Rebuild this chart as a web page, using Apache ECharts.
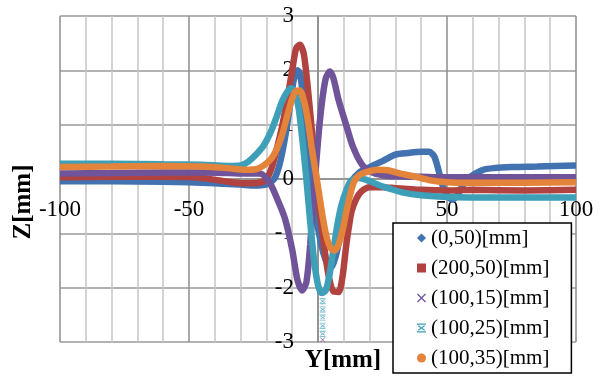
<!DOCTYPE html>
<html>
<head>
<meta charset="utf-8">
<script src="https://cdn.jsdelivr.net/npm/echarts/dist/echarts.min.js"></script>
<style>
  html, body { margin: 0; padding: 0; background: #fff; }
  #chart { width: 602px; height: 380px; }
</style>
</head>
<body>
<div id="chart"></div>
<script>
// series names (legend)
var names = ['(0,50)[mm]', '(200,50)[mm]', '(100,15)[mm]', '(100,25)[mm]', '(100,35)[mm]'];
var colors = ['#4272b0', '#b0433f', '#6f5499', '#3d9fb8', '#e3843a'];

// [Y, Z]
var s0_50 = [[-100,-0.04],[-80,-0.04],[-60,-0.05],[-50,-0.06],[-40,-0.08],[-30,-0.1],[-25,-0.12],[-20,-0.1],[-17,0.0],
  [-15,0.25],[-13,0.7],[-11,1.3],[-9.5,1.8],[-8,2.0],[-7,1.95],[-6,1.6],[-4,0.8],[-2,-0.2],[0,-0.9],[2,-1.35],
  [4,-1.6],[5,-1.63],[6,-1.55],[7.5,-1.3],[9,-0.85],[11,-0.35],[13,-0.05],[16,0.12],[20,0.22],[25,0.33],[30,0.45],
  [35,0.48],[40,0.5],[43,0.5],[45,0.42],[46.5,0.2],[48,-0.08],[50,-0.3],[52,-0.38],[54,-0.3],[56,-0.12],[58,0.0],
  [61,0.1],[64,0.17],[68,0.2],[75,0.22],[85,0.23],[100,0.25]];

var s200_50 = [[-100,0.03],[-80,0.04],[-60,0.04],[-45,0.02],[-35,-0.05],[-28,-0.08],[-23,-0.07],[-20,0.0],[-18,0.2],
  [-16,0.55],[-14,0.95],[-12,1.45],[-10,2.0],[-8.5,2.4],[-7,2.47],[-5.5,2.3],[-4,1.7],[-2,0.7],[0,-0.3],[2,-1.1],
  [4,-1.75],[6,-2.07],[8,-2.08],[9.5,-1.8],[11,-1.2],[13,-0.6],[15,-0.35],[17,-0.22],[20,-0.15],[25,-0.15],
  [30,-0.17],[40,-0.2],[50,-0.21],[60,-0.2],[80,-0.21],[100,-0.2]];

var s100_15 = [[-100,0.1],[-80,0.11],[-60,0.12],[-45,0.12],[-35,0.11],[-28,0.1],[-22.5,0.1],[-18.6,-0.08],[-15.5,-0.4],
  [-12.8,-0.73],[-10,-1.3],[-8,-1.85],[-6.2,-2.05],[-4.5,-1.9],[-3,-1.2],[-1.5,-0.2],[0,0.7],[1.5,1.4],[3,1.85],
  [4.6,1.98],[6,1.85],[8,1.45],[11,0.98],[13.5,0.6],[17,0.27],[21,0.12],[25,0.07],[30,0.05],[40,0.04],[50,0.03],
  [70,0.03],[100,0.03]];

var s100_25 = [[-100,0.28],[-80,0.28],[-60,0.27],[-45,0.26],[-35,0.24],[-30,0.25],[-27,0.32],[-24,0.45],[-21,0.62],
  [-18,0.9],[-16,1.15],[-14,1.42],[-12,1.6],[-10.5,1.67],[-9,1.6],[-7.5,1.3],[-6,0.7],[-4.5,0.0],[-3,-0.8],
  [-1.5,-1.5],[0,-1.95],[1.5,-2.1],[3,-2.05],[4.5,-1.75],[6,-1.3],[7.5,-0.85],[9,-0.5],[11,-0.2],[13,-0.02],
  [16,0.02],[19,-0.02],[23,-0.1],[28,-0.18],[33,-0.25],[40,-0.3],[50,-0.33],[70,-0.34],[100,-0.34]];
var s100_25tail = [[1.8,-2.25],[1.8,-2.4],[1.8,-2.55],[1.8,-2.7],[1.8,-2.85]];
var s100_15tail = [[1.8,-2.96]];

var s100_35 = [[-100,0.22],[-80,0.23],[-60,0.24],[-45,0.23],[-35,0.2],[-28,0.17],[-24,0.18],[-21,0.25],[-18,0.38],
  [-16,0.55],[-14,0.8],[-12,1.15],[-10,1.48],[-8.5,1.62],[-7,1.63],[-5.5,1.45],[-4,1.1],[-2.5,0.6],[-1,0.15],
  [0.5,-0.3],[2,-0.75],[3.5,-1.1],[5,-1.28],[6.5,-1.32],[8,-1.2],[9.5,-0.95],[11,-0.6],[12.5,-0.28],[14,-0.05],
  [16,0.07],[19,0.13],[23,0.17],[27,0.16],[32,0.1],[37,0.05],[43,-0.02],[50,-0.06],[60,-0.07],[80,-0.07],[100,-0.06]];

var font = '"Liberation Serif", "Times New Roman", serif';
var xPath = 'path://M1,0L5,4L9,0L10,1L6,5L10,9L9,10L5,6L1,10L0,9L4,5L0,1Z';
var starPath = 'path://M0,0H10V1.5H0Z M0,8.5H10V10H0Z M2,2L5,4.2L8,2L9,3L6,5L9,7L8,8L5,5.8L2,8L1,7L4,5L1,3Z';

function lineSeries(i, data) {
  return {
    name: names[i], type: 'line', data: data, smooth: 0.25,
    showSymbol: false, symbol: 'none',
    lineStyle: { width: 6.5, color: colors[i] },
    itemStyle: { color: colors[i] }
  };
}

var myChart = echarts.init(document.getElementById('chart'));
myChart.setOption({
  animation: false,
  grid: { left: 60, right: 26, top: 16, bottom: 38 },
  xAxis: {
    type: 'value', min: -100, max: 100, interval: 10,
    position: 'bottom', offset: -163,   // axis sits on Z=0
    axisLine: { onZero: false, lineStyle: { color: '#8c8c8c', width: 1.5 } },
    axisTick: { show: false },
    axisLabel: {
      margin: 19, fontSize: 23, fontFamily: font, color: '#000',
      formatter: function (v) { return v % 50 === 0 ? String(v) : ''; }
    },
    splitLine: { show: true, lineStyle: { width: 1.5, color: ['#8c8c8c', '#c4c4c4', '#c4c4c4', '#c4c4c4', '#c4c4c4'] } }
  },
  yAxis: {
    type: 'value', min: -3, max: 3, interval: 1,
    position: 'left', offset: -258,     // axis sits on Y=0
    axisLine: { onZero: false, lineStyle: { color: '#8c8c8c', width: 1.5 } },
    axisTick: { show: false },
    axisLabel: { margin: 24, fontSize: 23, fontFamily: font, color: '#000' },
    splitLine: { show: true, lineStyle: { width: 1.5, color: '#9a9a9a' } }
  },
  legend: {
    orient: 'vertical', left: 393, top: 223,
    padding: [3, 22, 3, 24], itemGap: 6,
    itemWidth: 9, itemHeight: 9,
    backgroundColor: '#fff', borderColor: '#000', borderWidth: 1.5, borderRadius: 0,
    textStyle: { fontSize: 21, fontFamily: font, color: '#000', lineHeight: 24 },
    data: [
      { name: names[0], icon: 'diamond' },
      { name: names[1], icon: 'rect' },
      { name: names[2], icon: xPath },
      { name: names[3], icon: starPath },
      { name: names[4], icon: 'circle' }
    ]
  },
  graphic: [
    { type: 'text', x: 343, y: 361, style: { text: 'Y[mm]', font: 'bold 25px ' + font, fill: '#000', align: 'center', verticalAlign: 'middle' } },
    { type: 'text', x: 24, y: 202, rotation: Math.PI / 2, style: { text: 'Z[mm]', font: 'bold 25px ' + font, fill: '#000', align: 'center', verticalAlign: 'middle' } }
  ],
  series: [
    lineSeries(0, s0_50),
    lineSeries(1, s200_50),
    lineSeries(2, s100_15),
    { name: names[2], type: 'scatter', data: s100_15tail, symbol: xPath, symbolSize: 5, itemStyle: { color: colors[2] } },
    lineSeries(3, s100_25),
    { name: names[3], type: 'scatter', data: s100_25tail, symbol: starPath, symbolSize: 6, itemStyle: { color: colors[3] } },
    lineSeries(4, s100_35)
  ]
});
</script>
</body>
</html>
